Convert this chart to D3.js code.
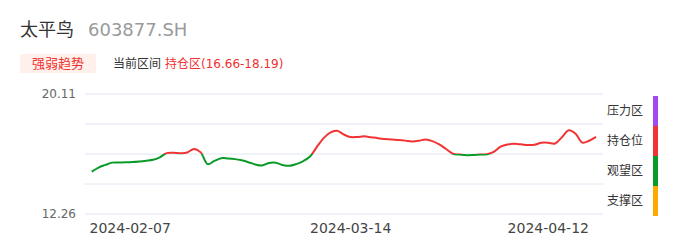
<!DOCTYPE html>
<html>
<head>
<meta charset="utf-8">
<script src="https://cdn.jsdelivr.net/npm/d3@7"></script>
<style>
  body { margin: 0; background: #fff; }
  text { font-family: "DejaVu Sans", "Noto Sans CJK SC", sans-serif; }
</style>
</head>
<body>
<script>
const width = 686, height = 247;

// data (one value per calendar day, 2024-02-05 .. 2024-04-19)
const startDate = "2024-02-05", endDate = "2024-04-19";
const values = [
  15.03, 15.30, 15.47, 15.62, 15.63, 15.64, 15.66, 15.70, 15.75, 15.81,
  15.97, 16.24, 16.26, 16.24, 16.28, 16.52, 16.29, 15.52, 15.73, 15.91,
  15.89, 15.85, 15.77, 15.65, 15.50, 15.43, 15.60, 15.62, 15.47, 15.41,
  15.52, 15.71, 16.00, 16.62, 17.21, 17.59, 17.70, 17.46, 17.29, 17.30,
  17.34, 17.28, 17.22, 17.17, 17.13, 17.10, 17.06, 17.01, 17.05, 17.14,
  17.03, 16.81, 16.51, 16.20, 16.15, 16.11, 16.12, 16.15, 16.17, 16.32,
  16.66, 16.81, 16.85, 16.82, 16.77, 16.79, 16.92, 16.92, 16.87, 17.28,
  17.74, 17.51, 16.93, 17.05, 17.30
];
const xTickLabels = ["2024-02-07", "2024-03-14", "2024-04-12"];
const yMin = 12.26, yMax = 20.11;
const zoneNames = ["压力区", "持仓位", "观望区", "支撑区"];
const zoneColors = ["#a347f0", "#f23333", "#0a9a2a", "#ffa800"];
const stockName = "太平鸟", stockCode = "603877.SH";
const badgeText = "强弱趋势";
const rangeLabel = "当前区间", rangeValue = "持仓区(16.66-18.19)";

const parse = d3.timeParse("%Y-%m-%d");
const dates = d3.timeDay.range(parse(startDate), d3.timeDay.offset(parse(endDate), 1));
const data = dates.map((d, i) => ({ date: d, value: values[i] }));

const svg = d3.select("body").append("svg").attr("width", width).attr("height", height);

// header
svg.append("text").attr("x", 20).attr("y", 35.5).attr("font-size", 18).attr("fill", "#333").text(stockName);
svg.append("text").attr("x", 88).attr("y", 35.5).attr("font-size", 18).attr("fill", "#9a9a9a").text(stockCode);
svg.append("rect").attr("x", 20).attr("y", 54).attr("width", 76).attr("height", 19).attr("fill", "#fff0ec");
svg.append("text").attr("x", 58).attr("y", 68).attr("font-size", 13).attr("text-anchor", "middle")
  .attr("fill", "#f0302f").text(badgeText);
svg.append("text").attr("x", 113).attr("y", 67.5).attr("font-size", 12).attr("fill", "#333").text(rangeLabel);
svg.append("text").attr("x", 165).attr("y", 67.5).attr("font-size", 12).attr("fill", "#f0302f").text(rangeValue);

// scales
const x = d3.scaleTime().domain([parse(startDate), parse(endDate)]).range([91.7, 596]);
const y = d3.scaleLinear().domain([yMin, yMax]).range([214, 94]);
const gridVals = d3.range(5).map(i => yMin + i * (yMax - yMin) / 4);

// grid
svg.append("g").selectAll("line").data(gridVals).enter().append("line")
  .attr("x1", 85).attr("x2", 603)
  .attr("y1", d => y(d)).attr("y2", d => y(d))
  .attr("stroke", "#e0e6f1").attr("stroke-width", 1);

svg.append("g").selectAll("text").data([yMin, yMax]).enter().append("text")
  .attr("x", 76).attr("y", d => y(d) + 4.3)
  .attr("text-anchor", "end").attr("font-size", 12).attr("fill", "#666")
  .text(d => d.toFixed(2));

// x labels, first one kept inside the plot
const xl = svg.append("g").selectAll("text").data(xTickLabels).enter().append("text")
  .attr("y", 233).attr("font-size", 14).attr("fill", "#444")
  .text(d => d);
xl.attr("x", function(d) {
  const w = this.getComputedTextLength();
  return Math.max(x(parse(d)) - w / 2, 89.5);
});

// line coloured by zone
const defs = svg.append("defs");
const grad = defs.append("linearGradient").attr("id", "zoneGrad")
  .attr("gradientUnits", "userSpaceOnUse")
  .attr("x1", 0).attr("x2", 0).attr("y1", y(yMax)).attr("y2", y(yMin));
zoneColors.forEach((c, i) => {
  grad.append("stop").attr("offset", i / 4).attr("stop-color", c);
  grad.append("stop").attr("offset", (i + 1) / 4).attr("stop-color", c);
});

const line = d3.line().x(d => x(d.date)).y(d => y(d.value)).curve(d3.curveCatmullRom.alpha(0.5));
svg.append("path").datum(data).attr("d", line)
  .attr("fill", "none").attr("stroke", "url(#zoneGrad)").attr("stroke-width", 2);

// zone legend
const bandH = (y(yMin) - y(yMax)) / 4;
const lg = svg.append("g").attr("transform", "translate(0,2)");
lg.selectAll("rect").data(zoneColors).enter().append("rect")
  .attr("x", 653).attr("width", 5)
  .attr("y", (d, i) => y(yMax) + i * bandH).attr("height", bandH)
  .attr("fill", d => d);
lg.selectAll("text").data(zoneNames).enter().append("text")
  .attr("x", 607).attr("y", (d, i) => y(yMax) + (i + 0.5) * bandH)
  .attr("dominant-baseline", "central").attr("font-size", 12).attr("fill", "#333")
  .text(d => d);
</script>
</body>
</html>
